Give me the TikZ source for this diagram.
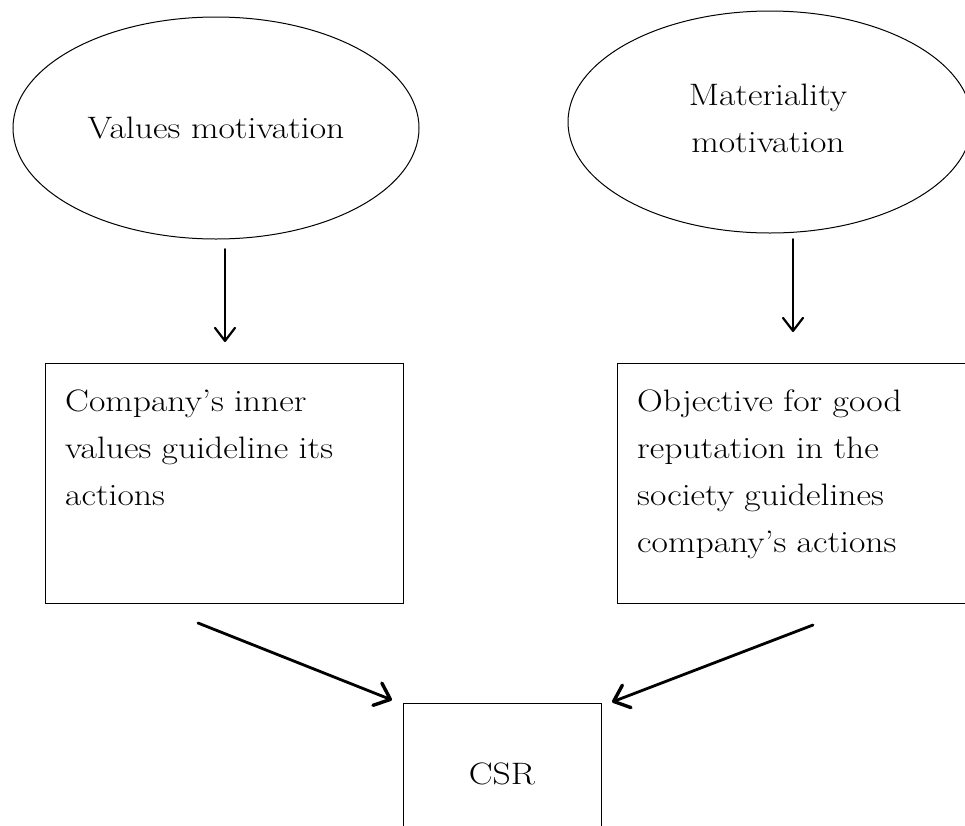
\documentclass[tikz,border=0pt]{standalone}
\usepackage{fontspec}
\setmainfont{Latin Modern Roman}[FakeStretch=1.15]
\usetikzlibrary{arrows.meta,shapes.geometric}
\begin{document}
\begin{tikzpicture}[x=1pt,y=-1pt,
  txt/.style={font=\fontsize{31}{47}\selectfont, inner sep=0pt},
  oval/.style={draw, line width=1pt, ellipse, inner sep=0pt, align=center, font=\fontsize{31}{47}\selectfont},
  boxframe/.style={draw, line width=1pt, inner sep=0pt},
  varr/.style={line width=2pt, line cap=round, -{Straight Barb[length=13pt,width=20pt,line width=2.2pt,round]}},
  darr/.style={line width=2.8pt, line cap=round, -{Straight Barb[length=14pt,width=24pt,line width=3.4pt,round]}}]
\useasboundingbox (0,0) rectangle (965,825);
\clip (0,0) rectangle (965,825);
% ellipses
\node[oval, minimum width=406pt, minimum height=222pt] (vm) at (216,128) {Values motivation};
\node[oval, minimum width=404pt, minimum height=222pt] (mm) at (770,122) {};
\node[txt, align=center] (mmt) at (768,118) {Materiality\\motivation};
% boxes
\node[boxframe, minimum width=358pt, minimum height=240pt, anchor=north west] (lb) at (45,363) {};
\node[boxframe, minimum width=380pt, minimum height=240pt, anchor=north west] (rb) at (617,363) {};
\node[boxframe, minimum width=198pt, minimum height=160pt, anchor=north west] (csr) at (403,703) {};
\node[txt] (csrt) at (502,774) {CSR};
\node[txt, anchor=north west, align=left, text width=330pt] (lbt) at (65,390) {Company’s inner\\values guideline its\\actions};
\node[txt, anchor=north west, align=left, text width=330pt] (rbt) at (637,390) {Objective for good\\reputation in the\\society guidelines\\company’s actions};
% arrow end points
\coordinate (a1s) at (225,249);
\coordinate (a1e) at (225,342);
\coordinate (a2s) at (793,239);
\coordinate (a2e) at (793,332);
\coordinate (a3s) at (198,623);
\coordinate (a3e) at (392,700);
\coordinate (a4s) at (813,625);
\coordinate (a4e) at (612,702);
\draw[varr] (a1s) -- (a1e);
\draw[varr] (a2s) -- (a2e);
\draw[darr] (a3s) -- (a3e);
\draw[darr] (a4s) -- (a4e);
\end{tikzpicture}
\end{document}
